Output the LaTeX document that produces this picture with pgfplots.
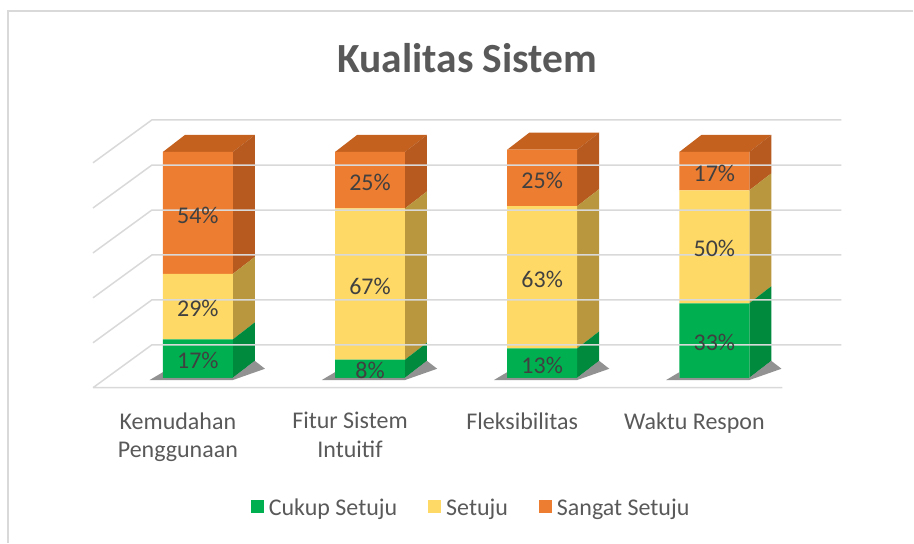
\documentclass[border=0pt]{standalone}
\usepackage{fontspec}
\setmainfont{Carlito}
\usepackage{pgfplots}
\usepackage{pgfplotstable}
\pgfplotsset{compat=1.18}
\definecolor{cgreen}{HTML}{00B050}
\definecolor{cyellow}{HTML}{FFD966}
\definecolor{corange}{HTML}{ED7D31}
\definecolor{cgreenS}{HTML}{008A3E}
\definecolor{cyellowS}{HTML}{B8973F}
\definecolor{corangeS}{HTML}{B65A1F}
\definecolor{corangeT}{HTML}{C4611F}
\definecolor{ctext}{HTML}{595959}
\definecolor{clab}{HTML}{404040}
\definecolor{cgrid}{HTML}{D9D9D9}
\definecolor{cshadow}{HTML}{6E6E6E}
\pgfplotstableread{
x cukup setuju sangat
0 17 29 54
1 8 67 25
2 13 63 25
3 33 50 17
}\datatable
\pgfplotsset{
  sq legend/.style={legend image code/.code={\fill[##1] (0pt,-5pt) rectangle (13pt,8pt);}},
  poly/.style={forget plot, stack plots=false, sharp plot, draw=none, mark=none},
  vlab/.style={point meta=explicit, nodes near coords={\pgfmathprintnumber[assume math mode=true]{\pgfplotspointmeta}\%},
    every node near coord/.append style={anchor=center, yshift=-2pt, font=\fontsize{24}{29}\selectfont, text=clab}},
}
\begin{document}
\begin{tikzpicture}
\begin{axis}[
  ybar stacked,
  scale only axis,
  width=914pt, height=543pt,
  xmin=-1.1492, xmax=4.1555,
  ymin=-73.01, ymax=167.26,
  clip=false,
  axis line style={draw=none},
  major tick length=0pt,
  ytick=\empty,
  xtick={-0.116,0.884,1.884,2.884},
  xticklabels={{Kemudahan\\Penggunaan},{Fitur Sistem\\Intuitif},{Fleksibilitas},{Waktu Respon}},
  xticklabel style={font=\fontsize{24}{29}\selectfont, text=ctext, align=center, anchor=north, inner sep=0pt, yshift=130.6pt},
  bar width=0.406,
  unbounded coords=jump,
  title={Kualitas Sistem},
  title style={at={(0.5115,0.8564)}, anchor=base, font=\bfseries\fontsize{41.5}{49}\selectfont, text=ctext},
  legend columns=3,
  legend style={draw=none, fill=none, at={(0.5175,0.0645)}, anchor=center,
    font=\fontsize{24}{29}\selectfont, text=ctext,
    nodes={inner xsep=5pt, inner ysep=0pt},
    /tikz/every even column/.append style={column sep=26pt}},
  legend cell align=left,
]
% border
\draw[cgrid, line width=1.5pt] (rel axis cs:0.00875,0) -- (rel axis cs:0.00875,0.9797) -- (rel axis cs:1,0.9797);
% back wall gridlines and floor diagonals
\addplot[poly, draw=cgrid, line width=1.5pt] coordinates {
(-0.609,-4.4) (-0.267,14.6) (3.738,14.6) (nan,nan)
(-0.609,15.5) (-0.267,34.5) (3.738,34.5) (nan,nan)
(-0.609,35.4) (-0.267,54.4) (3.738,54.4) (nan,nan)
(-0.609,55.3) (-0.267,74.3) (3.738,74.3) (nan,nan)
(-0.609,75.2) (-0.267,94.2) (3.738,94.2) (nan,nan)
(-0.609,95.2) (-0.267,114.2) (3.738,114.2) (nan,nan)
(-0.609,-4.4) (3.395,-4.4)
};
% shadows (outside the bars only)
\addplot[poly, fill=cshadow, opacity=0.75] coordinates {(-0.2031,2.5) (-0.28,-1.0) (0.2031,-1.0) (0.39,4.0) (0.3308,7.52) (0.2031,0) (-0.2031,0)};
\addplot[poly, fill=cshadow, opacity=0.75] coordinates {(0.7969,2.5) (0.72,-1.0) (1.2031,-1.0) (1.39,4.0) (1.3308,7.52) (1.2031,0) (0.7969,0)};
\addplot[poly, fill=cshadow, opacity=0.75] coordinates {(1.7969,2.5) (1.72,-1.0) (2.2031,-1.0) (2.39,4.0) (2.3308,7.52) (2.2031,0) (1.7969,0)};
\addplot[poly, fill=cshadow, opacity=0.75] coordinates {(2.7969,2.5) (2.72,-1.0) (3.2031,-1.0) (3.39,4.0) (3.3308,7.52) (3.2031,0) (2.7969,0)};
% front faces (stacked)
\addplot[fill=cgreen, draw=none, sq legend, vlab] table[x=x, y=cukup, meta=cukup] {\datatable};
\addlegendentry{Cukup Setuju}
\addplot[fill=cyellow, draw=none, sq legend, vlab] table[x=x, y=setuju, meta=setuju] {\datatable};
\addlegendentry{Setuju}
\addplot[fill=corange, draw=none, sq legend, vlab] table[x=x, y=sangat, meta=sangat] {\datatable};
\addlegendentry{Sangat Setuju}
% side faces
\addplot[poly, fill=cgreenS] coordinates {(0.2031,0) (0.3308,7.52) (0.3308,24.52) (0.2031,17)};
\addplot[poly, fill=cyellowS] coordinates {(0.2031,17) (0.3308,24.52) (0.3308,53.52) (0.2031,46)};
\addplot[poly, fill=corangeS] coordinates {(0.2031,46) (0.3308,53.52) (0.3308,107.52) (0.2031,100)};
\addplot[poly, fill=corangeT] coordinates {(-0.2031,100) (0.2031,100) (0.3308,107.52) (-0.0754,107.52)};
\addplot[poly, fill=cgreenS] coordinates {(1.2031,0) (1.3308,7.52) (1.3308,15.52) (1.2031,8)};
\addplot[poly, fill=cyellowS] coordinates {(1.2031,8) (1.3308,15.52) (1.3308,82.52) (1.2031,75)};
\addplot[poly, fill=corangeS] coordinates {(1.2031,75) (1.3308,82.52) (1.3308,107.52) (1.2031,100)};
\addplot[poly, fill=corangeT] coordinates {(0.7969,100) (1.2031,100) (1.3308,107.52) (0.9246,107.52)};
\addplot[poly, fill=cgreenS] coordinates {(2.2031,0) (2.3308,7.52) (2.3308,20.52) (2.2031,13)};
\addplot[poly, fill=cyellowS] coordinates {(2.2031,13) (2.3308,20.52) (2.3308,83.52) (2.2031,76)};
\addplot[poly, fill=corangeS] coordinates {(2.2031,76) (2.3308,83.52) (2.3308,108.52) (2.2031,101)};
\addplot[poly, fill=corangeT] coordinates {(1.7969,101) (2.2031,101) (2.3308,108.52) (1.9246,108.52)};
\addplot[poly, fill=cgreenS] coordinates {(3.2031,0) (3.3308,7.52) (3.3308,40.52) (3.2031,33)};
\addplot[poly, fill=cyellowS] coordinates {(3.2031,33) (3.3308,40.52) (3.3308,90.52) (3.2031,83)};
\addplot[poly, fill=corangeS] coordinates {(3.2031,83) (3.3308,90.52) (3.3308,107.52) (3.2031,100)};
\addplot[poly, fill=corangeT] coordinates {(2.7969,100) (3.2031,100) (3.3308,107.52) (2.9246,107.52)};
\end{axis}
\end{tikzpicture}
\end{document}
